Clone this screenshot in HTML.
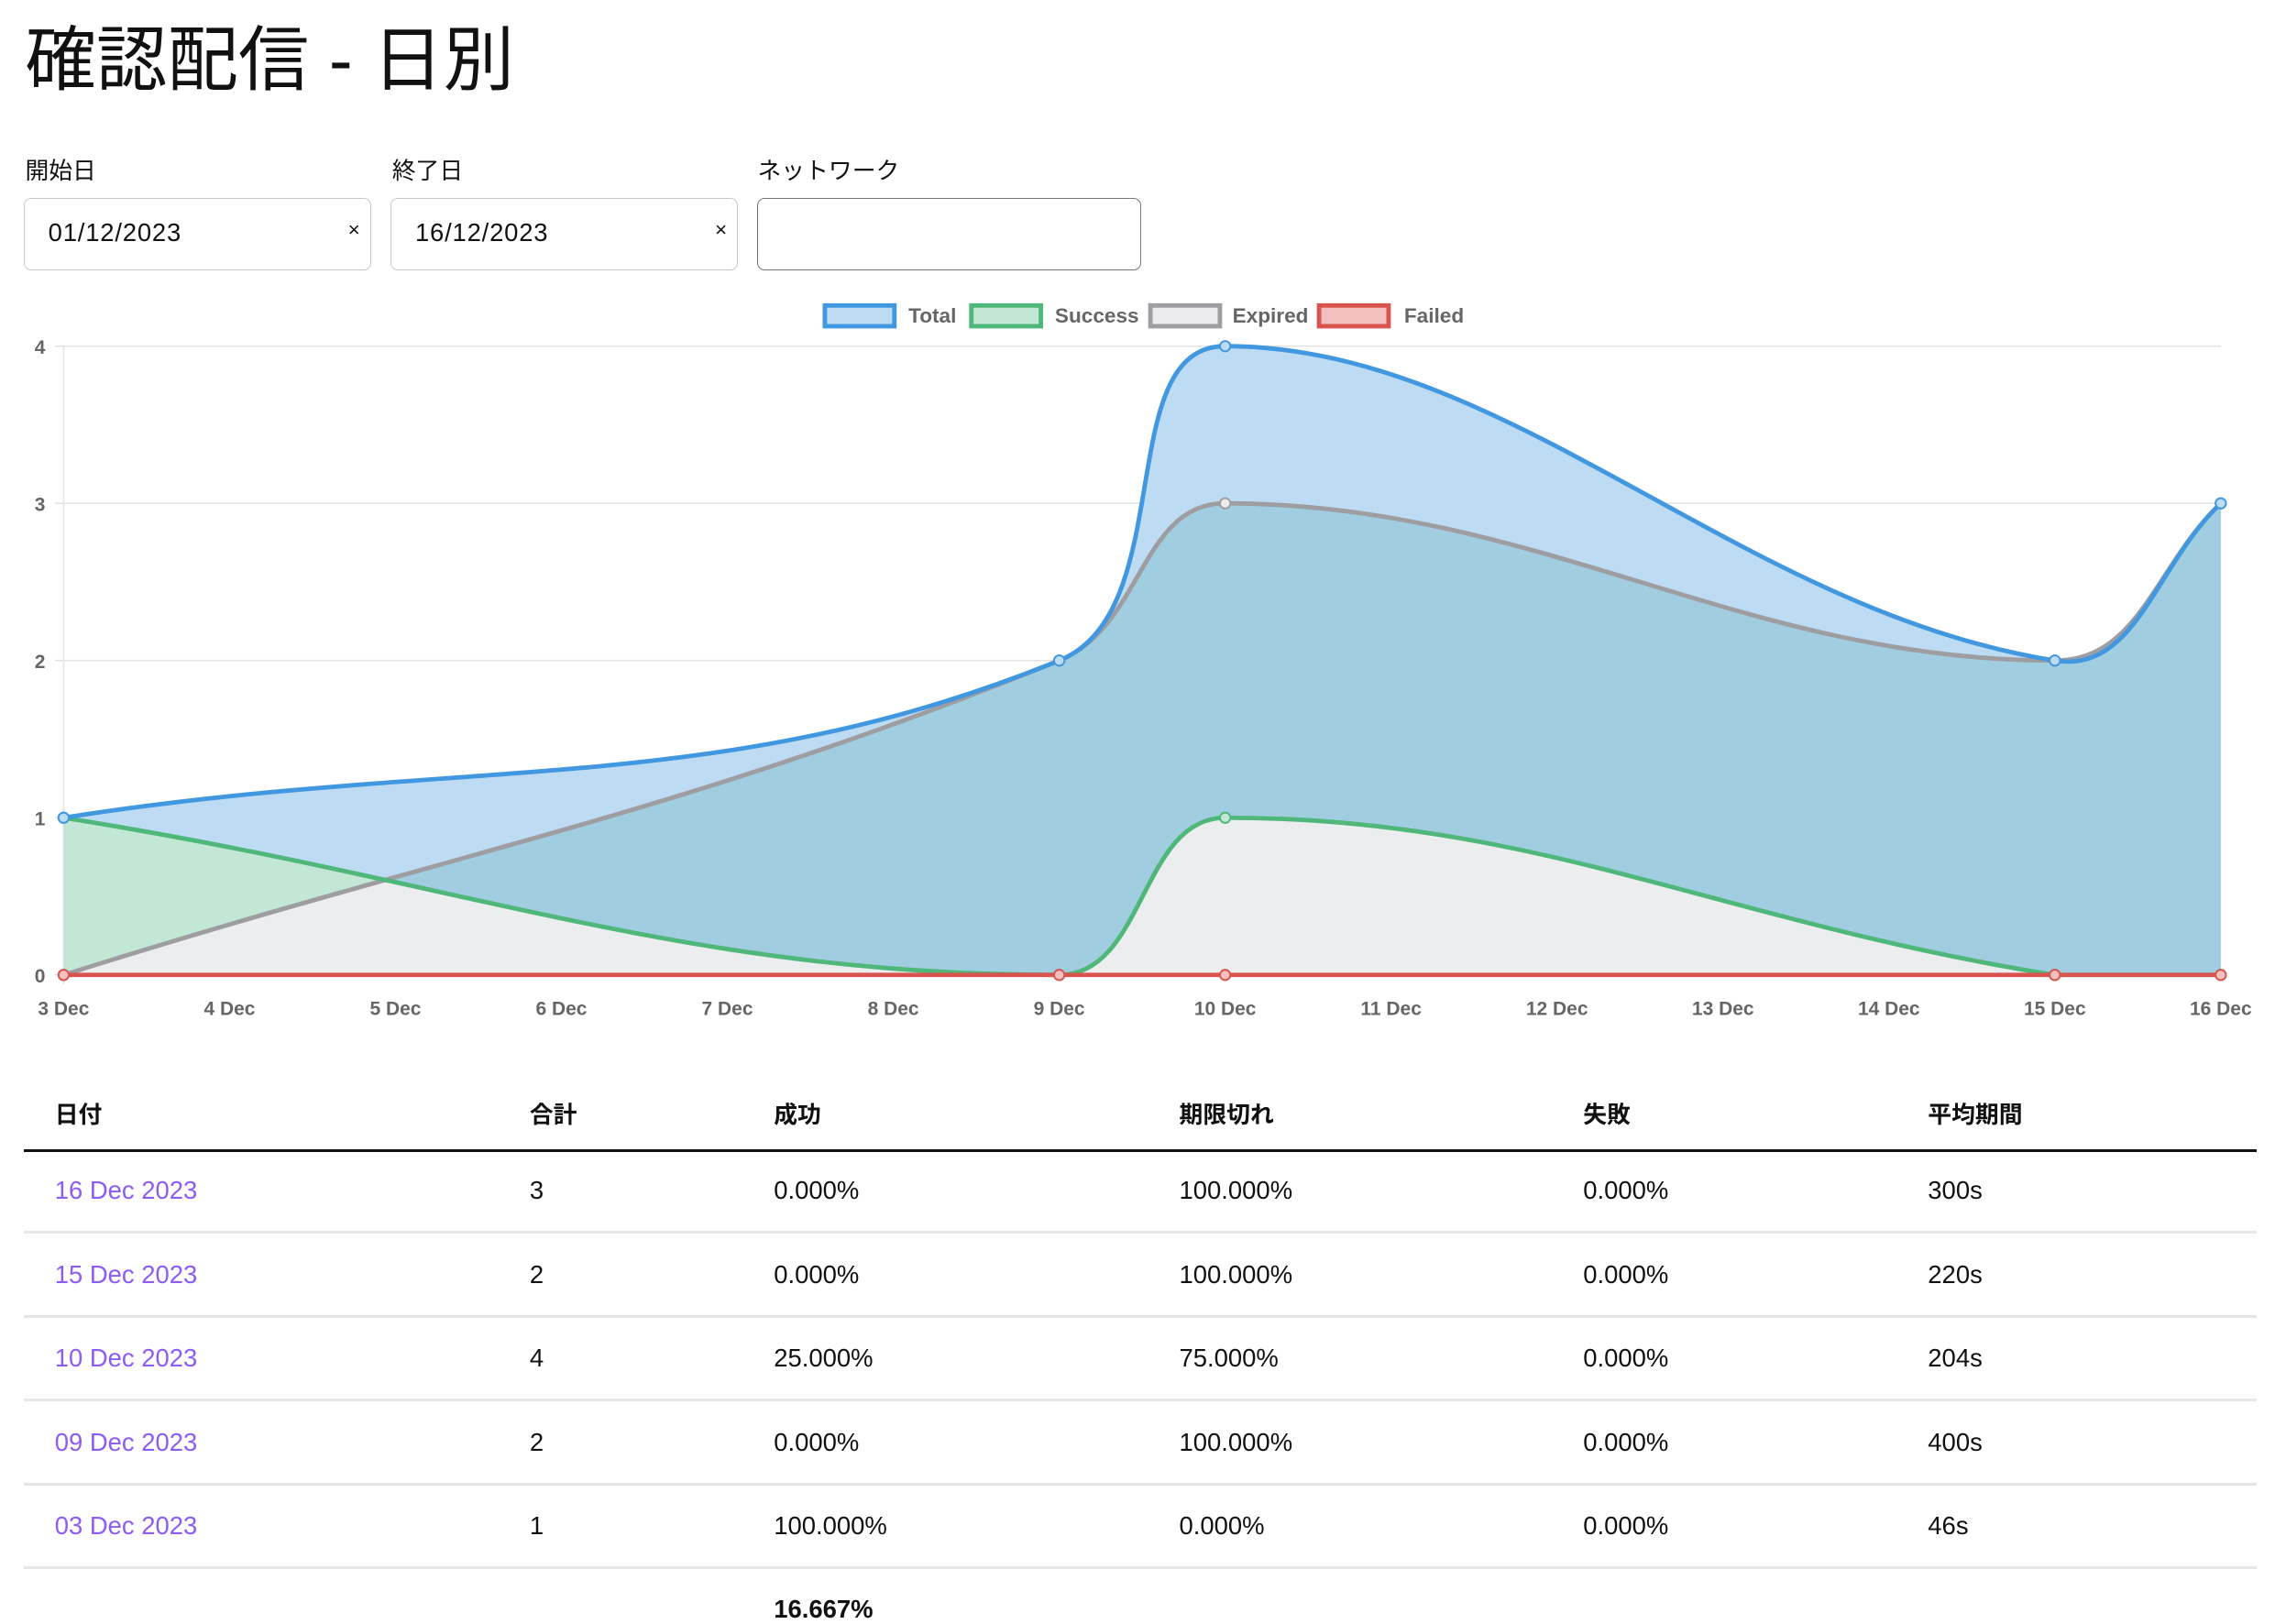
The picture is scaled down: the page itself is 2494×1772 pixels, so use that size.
<!DOCTYPE html>
<html><head><meta charset="utf-8">
<style>
html,body{margin:0;padding:0;background:#fff;}
body{width:2494px;height:1768px;overflow:hidden;}
#w{position:relative;width:1545px;height:1095px;zoom:1.6142;font-family:"Liberation Sans","Noto Sans CJK JP",sans-serif;color:#111;}
.a{position:absolute;white-space:nowrap;}
h1{position:absolute;left:17px;top:2px;margin:0;font-size:48px;font-weight:400;font-family:"Liberation Sans","Noto Sans CJK JP",sans-serif;}
.lbl{font-size:16px;top:103px;}
.inp{position:absolute;top:134px;height:47px;border:1px solid #c8c8cc;border-radius:5px;box-sizing:border-box;height:49px;}
.inp span{position:absolute;left:16px;top:13px;font-size:17px;letter-spacing:.5px;}
.inp i{position:absolute;right:7px;top:13px;font-style:normal;font-size:14px;}
.th{font-weight:bold;font-size:16px;top:741px;}
.td{font-size:17px;}
.lk{color:#8d5cf6;}
.ln{position:absolute;left:16px;width:1509px;height:2px;background:#e6e6e6;}
</style></head><body><div id="w">
<h1>確認配信 - 日別</h1>
<div class="a lbl" style="left:17px">開始日</div>
<div class="a lbl" style="left:265px">終了日</div>
<div class="a lbl" style="left:512px">ネットワーク</div>
<div class="inp" style="left:16px;width:235px"><span>01/12/2023</span><i>×</i></div>
<div class="inp" style="left:264px;width:235px"><span>16/12/2023</span><i>×</i></div>
<div class="inp" style="left:512px;width:259px;border-color:#777"></div>
<svg id="c" class="a" style="left:0;top:0" width="1545" height="700" font-family="'Liberation Sans Narrow','Liberation Sans',sans-serif"></svg>
<div class="a th" style="left:37px">日付</div>
<div class="a th" style="left:358px">合計</div>
<div class="a th" style="left:523px">成功</div>
<div class="a th" style="left:797px">期限切れ</div>
<div class="a th" style="left:1070px">失敗</div>
<div class="a th" style="left:1303px">平均期間</div>
<div class="ln" style="top:777px;background:#111"></div>
<div id="rows"></div>
<div class="a td" style="left:523px;top:1078px;font-weight:bold">16.667%</div>
</div>
<script>
var rows=[["16 Dec 2023","3","0.000%","100.000%","0.000%","300s"],["15 Dec 2023","2","0.000%","100.000%","0.000%","220s"],["10 Dec 2023","4","25.000%","75.000%","0.000%","204s"],["09 Dec 2023","2","0.000%","100.000%","0.000%","400s"],["03 Dec 2023","1","100.000%","0.000%","0.000%","46s"]];
var cx=[37,358,523,797,1070,1303],h="";
rows.forEach(function(r,i){var y=795+i*56.7;r.forEach(function(t,j){h+='<div class="a td'+(j==0?' lk':'')+'" style="left:'+cx[j]+'px;top:'+y+'px">'+t+'</div>';});h+='<div class="ln" style="top:'+(832+i*56.7)+'px"></div>';});
document.getElementById('rows').innerHTML=h;
var s="",X0=43,DX=112.15,Y0=659,DY=106.25;
function X(d){return X0+(d-3)*DX}function Y(v){return Y0-v*DY}
for(var v=0;v<=4;v++){s+='<line x1="37" x2="1501" y1="'+Y(v)+'" y2="'+Y(v)+'" stroke="#e3e3e3" stroke-width="1"/>';s+='<text x="27" y="'+(Y(v)+5)+'" font-size="13" font-weight="bold" fill="#666" text-anchor="middle">'+v+'</text>';}
s+='<line x1="43" x2="43" y1="234" y2="665" stroke="#e3e3e3"/>';
for(var d=3;d<=16;d++){s+='<text x="'+X(d)+'" y="686" font-size="13" font-weight="bold" fill="#666" text-anchor="middle">'+d+' Dec</text>';}
var days=[3,9,10,15,16];
function path(vals){var p=days.map(function(d,i){return [X(d),Y(vals[i])]});var n=p.length,cp=[];
for(var i=0;i<n;i++){var pr=p[i-1]||p[i],cu=p[i],nx=p[i+1]||p[i];var d01=Math.hypot(cu[0]-pr[0],cu[1]-pr[1]),d12=Math.hypot(nx[0]-cu[0],nx[1]-cu[1]);var s01=d01/(d01+d12)||0,s12=d12/(d01+d12)||0;var fa=.4*s01,fb=.4*s12;
cp.push([[cu[0]-fa*(nx[0]-pr[0]),Math.min(Y0,Math.max(234,cu[1]-fa*(nx[1]-pr[1])))],[cu[0]+fb*(nx[0]-pr[0]),Math.min(Y0,Math.max(234,cu[1]+fb*(nx[1]-pr[1])))]]);}
var str="M"+p[0][0]+","+p[0][1];for(var i=1;i<n;i++){str+="C"+cp[i-1][1][0]+","+cp[i-1][1][1]+" "+cp[i][0][0]+","+cp[i][0][1]+" "+p[i][0]+","+p[i][1];}
return {d:str,p:p};}
var T=path([1,2,4,2,3]),S=path([1,0,1,0,0]),E=path([0,2,3,2,3]),F=path([0,0,0,0,0]);
function area(o){return o.d+"L"+X(16)+","+Y0+"L"+X(3)+","+Y0+"Z"}
s+='<defs><clipPath id="sc"><path d="'+area(S)+'"/></clipPath></defs>';
s+='<path d="'+area(T)+'" fill="#bddcf4"/>';
s+='<path d="'+area(E)+'" fill="#a0cee0"/>';
s+='<path d="'+area(S)+'" fill="#c2e8d5"/>';
s+='<path d="'+area(E)+'" fill="#ecedee" clip-path="url(#sc)"/>';
var L=[[E,"#9e9da2","#ececee"],[S,"#50b77b","#c2e8d5"],[T,"#4198e0","#bddcf4"],[F,"#d9534f","#f4c0bf"]];
L.forEach(function(l){s+='<path d="'+l[0].d+'" fill="none" stroke="'+l[1]+'" stroke-width="3"/>';});
L.forEach(function(l){l[0].p.forEach(function(q){s+='<circle cx="'+q[0]+'" cy="'+q[1]+'" r="3.5" fill="'+l[2]+'" stroke="'+l[1]+'" stroke-width="1.2"/>';});});
var lg=[[556,"Total","#4198e0","#bddcf4",614],[655,"Success","#50b77b","#c2e8d5",713],[776,"Expired","#9e9da2","#ececee",833],[890,"Failed","#d9534f","#f4c0bf",949]];
lg.forEach(function(g){s+='<rect x="'+(g[0]+1.5)+'" y="206.5" width="47" height="14" fill="'+g[3]+'" stroke="'+g[2]+'" stroke-width="3"/><text x="'+g[4]+'" y="218" font-size="14" font-weight="bold" fill="#666">'+g[1]+'</text>';});
document.getElementById('c').innerHTML=s;
</script>
</body></html>
